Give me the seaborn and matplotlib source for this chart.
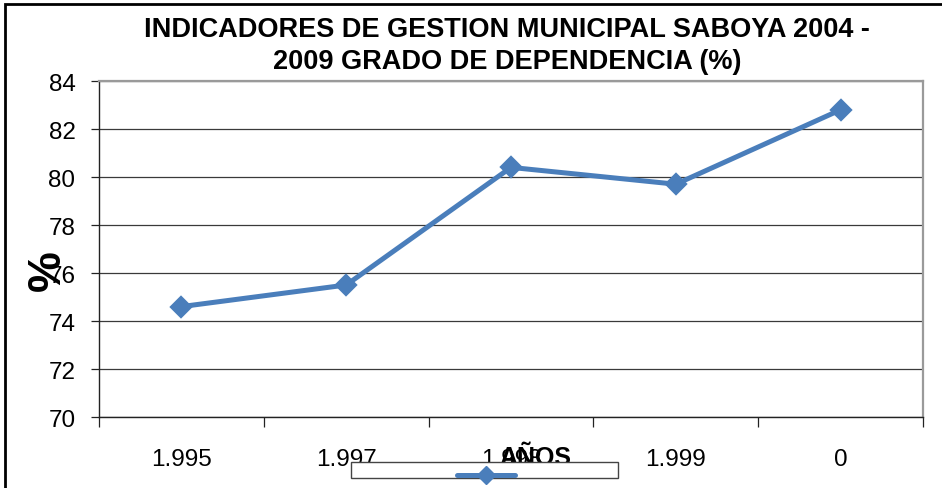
import matplotlib
matplotlib.use("Agg")
import matplotlib.pyplot as plt
import seaborn as sns
import pandas as pd
from matplotlib.lines import Line2D
from matplotlib.patches import Rectangle

# Data
anios = ["1.995", "1.997", "1.998", "1.999", "0"]
dependencia = [74.6, 75.5, 80.4, 79.7, 82.8]
y_ticks = [70, 72, 74, 76, 78, 80, 82, 84]

titulo = "INDICADORES DE GESTION MUNICIPAL SABOYA 2004 -\n2009 GRADO DE DEPENDENCIA (%)"
azul = "#4A7EBB"

sns.set_theme(style="white")
plt.rcParams["font.family"] = ["Liberation Sans", "DejaVu Sans"]

df = pd.DataFrame({"anio": anios, "valor": dependencia})

fig = plt.figure(figsize=(9.42, 4.89), dpi=100)
ax = fig.add_axes([99 / 942, 1 - 418 / 489, 824 / 942, 336 / 489])

sns.pointplot(data=df, x="anio", y="valor", order=anios, color=azul,
              markers="D", markersize=9.5, linewidth=3.6, errorbar=None, ax=ax)

ax.set_ylim(70, 84)
ax.set_yticks(y_ticks)
ax.set_xlim(-0.5, len(anios) - 0.5)
ax.yaxis.grid(True, color="#3a3a3a", linewidth=0.9)
ax.set_axisbelow(True)

for side in ["left", "bottom"]:
    ax.spines[side].set_color("#222222")
    ax.spines[side].set_linewidth(1.0)
for side in ["top", "right"]:
    ax.spines[side].set_color("#9a9a9a")
    ax.spines[side].set_linewidth(1.6)

ax.tick_params(axis="y", which="major", direction="out", length=6, width=0.9,
               color="#222222", pad=11, labelsize=17.5, left=True)
ax.tick_params(axis="x", which="major", length=0, pad=22, labelsize=17.5)
ax.set_xticks([i - 0.5 for i in range(len(anios) + 1)], minor=True)
ax.tick_params(axis="x", which="minor", direction="out", length=7, width=0.9,
               color="#222222", bottom=True)
for lbl in ax.get_xticklabels() + ax.get_yticklabels():
    lbl.set_color("black")

ax.set_xlabel("AÑOS", fontsize=18, fontweight="bold", color="black")
ax.xaxis.set_label_coords(0.529, -0.12)
ax.xaxis.label.set_va("center")
ax.set_ylabel("%", fontsize=33, fontweight="bold", color="black")
ax.yaxis.set_label_coords(-0.062, 0.44)
ax.yaxis.label.set_va("center")

fig.text(507 / 942, 1 - 46 / 489, titulo, ha="center", va="center",
         fontsize=19.5, fontweight="bold", linespacing=1.32, color="black")

# Legend: box frame plus series key
fig.patches.append(Rectangle((351 / 942, 1 - 479 / 489), 267 / 942, 16 / 489,
                             transform=fig.transFigure, fill=True,
                             facecolor="white", edgecolor="#444444",
                             linewidth=1.0, zorder=3))
leg = fig.legend(handles=[Line2D([], [], color=azul, linewidth=3.6, marker="D",
                                 markersize=9.5)],
                 labels=[""], loc="center", frameon=False,
                 bbox_to_anchor=(486 / 942, 1 - 477 / 489),
                 borderpad=0, borderaxespad=0, handlelength=3.8,
                 handletextpad=0)
leg.set_zorder(4)

# Outer chart border
fig.patches.append(Rectangle((5 / 942, -0.2), 1.2, 1.2 - 5 / 489,
                             transform=fig.transFigure, fill=False,
                             edgecolor="black", linewidth=2.0))

fig.savefig("out.png", dpi=100)
